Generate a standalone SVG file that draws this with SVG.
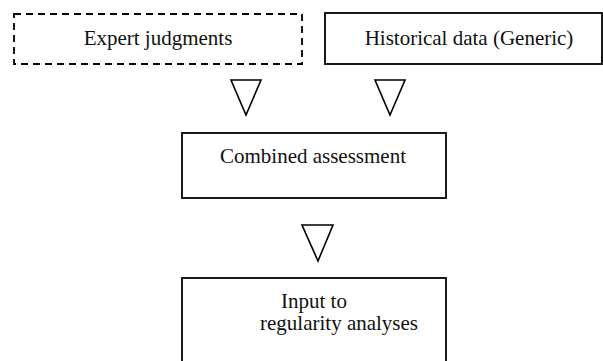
<svg xmlns="http://www.w3.org/2000/svg" width="603" height="361" viewBox="0 0 603 361">
<style>
.box{fill:#fff;stroke:#000;stroke-width:1.8}
.dash{stroke-dasharray:7 5}
.t{font-family:"Liberation Serif","Times New Roman",serif;font-size:21px;fill:#111}
.tri{fill:#fff;stroke:#000;stroke-width:1.6;stroke-linejoin:miter}
</style>
<rect width="603" height="361" fill="#fff"/>
<g id="expert">
<rect class="box dash" x="14" y="14" width="288" height="50"/>
<text class="t" x="158" y="45" text-anchor="middle">Expert judgments</text>
</g>
<g id="historical">
<rect class="box" x="325" y="13" width="277" height="51"/>
<text class="t" x="469" y="45" text-anchor="middle">Historical data (Generic)</text>
</g>
<g id="combined">
<rect class="box" x="182" y="133" width="264" height="65"/>
<text class="t" x="313" y="163" text-anchor="middle">Combined assessment</text>
</g>
<g id="input">
<rect class="box" x="182" y="278" width="264" height="100"/>
<text class="t" x="281" y="308">Input to</text>
<text class="t" x="260" y="330">regularity analyses</text>
</g>
<g id="connectors">
<polygon class="tri" points="231,80 261,80 246,115"/>
<polygon class="tri" points="375,80 405,80 390,115"/>
<polygon class="tri" points="302,225 333,225 318,261"/>
</g>
</svg>
